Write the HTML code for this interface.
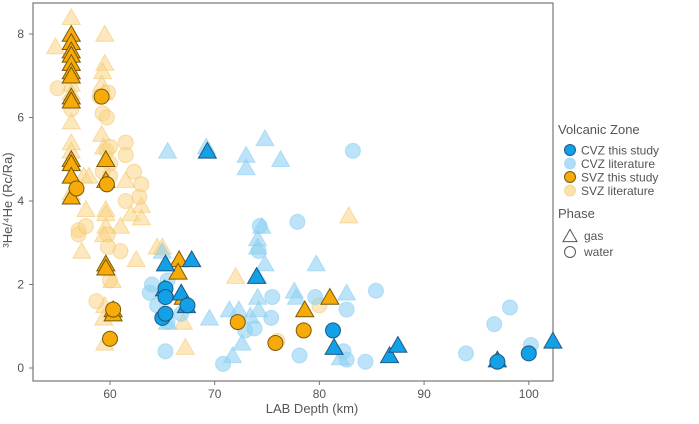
<!DOCTYPE html>
<html><head><meta charset="utf-8"><style>
body{margin:0;background:#fff;font-family:"Liberation Sans",sans-serif}
svg text{font-family:"Liberation Sans",sans-serif;fill:#555}
</style></head><body>
<svg id="c" width="699" height="419">
<rect x="33" y="3" width="520" height="378" fill="none" stroke="#777" stroke-width="1.2"/>
<g id="marks"></g>
<g id="axes"></g>
<text x="12" y="200" font-size="13" transform="rotate(-90 12 200)" text-anchor="middle">³He/⁴He (Rc/Ra)</text>
<text x="312" y="413" font-size="13" text-anchor="middle">LAB Depth (km)</text>
<g>
<text x="558" y="134" font-size="13">Volcanic Zone</text>
<g id="leg"></g>
<text x="558" y="218" font-size="13">Phase</text>
</g>
</svg>
<script>
const xTicks=[60,70,80,90,100];
const yTicks=[0,2,4,6,8];
const seriesNames=["CVZ this study","CVZ literature","SVZ this study","SVZ literature"];
const svzLitTriX=[56.3,54.8,56.3,56.3,56.3,56.3,56.3,56.3,56.3,56.3,56.3,56.3,56.3,56.3,59.5,59.5,59.3,59.2,59.4,59.2,59.4,59.6,59.6,59.6,59.4,59.5,59.4,59.5,57.5,57.7,57.3,58.0,61.5,61.0,62.0,63.0,63.0,62.5,64.5,67.0,67.2,72.0,82.8,60.2,65.0];
const svzLitTriY=[8.4,7.7,7.5,7.3,7.0,6.8,6.6,6.5,5.9,5.4,5.2,5.0,4.9,4.2,8.0,7.3,7.1,6.8,6.6,5.6,5.3,3.8,3.7,3.4,3.2,1.5,1.2,0.6,4.6,3.8,2.8,4.6,4.5,3.4,3.7,3.9,3.6,2.6,2.9,1.1,0.5,2.2,3.65,2.1,2.9];
const svzLitCirX=[55.0,56.3,57.0,57.0,57.7,59.0,59.3,59.8,59.7,59.7,60.0,60.0,60.0,59.3,59.7,61.5,61.5,62.3,63.0,62.8,61.5,59.8,59.8,61.0,60.0,58.7,76.0,80.0];
const svzLitCirY=[6.7,6.2,3.3,3.2,3.4,6.5,6.1,6.6,6.0,5.2,5.3,4.6,4.9,4.7,4.4,5.4,5.1,4.7,4.4,4.1,4.0,3.2,2.9,2.8,2.1,1.6,0.65,1.5];
const cvzLitTriX=[65.5,69.2,73.0,73.0,74.8,76.3,74.5,74.1,74.1,74.8,74.1,74.1,71.4,72.3,73.4,74.2,69.5,72.6,71.7,77.6,77.8,79.7,82.6,82.0,65.0,66.8,65.5];
const cvzLitTriY=[5.2,5.3,5.1,4.8,5.5,5.0,3.4,3.1,2.9,2.5,2.2,1.7,1.4,1.4,1.25,1.4,1.2,0.6,0.3,1.85,1.7,2.5,1.8,0.25,2.8,1.8,1.1];
const cvzLitCirX=[83.2,77.9,74.3,74.2,75.5,79.6,85.4,82.6,73.8,75.4,70.8,78.1,82.3,82.6,84.4,94.0,96.7,98.2,100.2,64.0,63.8,64.5,65.5,65.5,65.3,66.8,72.9];
const cvzLitCirY=[5.2,3.5,3.4,2.8,1.7,1.7,1.85,1.4,0.95,1.2,0.1,0.3,0.4,0.2,0.15,0.35,1.05,1.45,0.55,2.0,1.8,1.5,2.1,1.1,0.4,1.3,0.9];
const svzStTriX=[56.3,56.3,56.3,56.3,56.3,56.3,56.3,56.3,56.3,56.3,56.3,56.3,56.3,59.6,59.6,59.6,59.6,60.3,60.3,66.6,66.5,67.0,78.6,81.0];
const svzStTriY=[8.0,7.8,7.6,7.5,7.3,7.1,7.0,6.5,6.4,5.0,4.9,4.6,4.1,5.0,4.5,2.5,2.4,1.4,1.3,2.6,2.3,1.7,1.4,1.7];
const svzStCirX=[56.8,59.2,59.7,60.3,60.0,72.2,75.8,78.5];
const svzStCirY=[4.3,6.5,4.4,1.4,0.7,1.1,0.6,0.9];
const cvzStTriX=[65.3,67.8,66.8,67.3,69.3,74.0,81.4,86.7,87.5,97.0,102.3,65.2];
const cvzStTriY=[2.5,2.6,1.8,1.5,5.2,2.2,0.5,0.3,0.55,0.2,0.65,1.9];
const cvzStCirX=[65.3,65.3,65.0,65.3,81.3,97.0,100.0,67.4];
const cvzStCirY=[1.9,1.7,1.2,1.3,0.9,0.15,0.35,1.5];

const NS="http://www.w3.org/2000/svg";
const X=v=>110+(v-60)*10.47;
const Y=v=>368-v*41.75;
const marks=document.getElementById('marks'),axes=document.getElementById('axes'),leg=document.getElementById('leg');
function mk(t,a,p){const e=document.createElementNS(NS,t);for(const k in a)e.setAttribute(k,a[k]);p.appendChild(e);return e;}
function tri(cx,cy,s,st,p){return mk('polygon',{points:`${cx-s},${cy+s*0.8} ${cx+s},${cy+s*0.8} ${cx},${cy-s*0.95}`},p);}
const styles={
 cvzSt:{fill:'#12a0e6',stroke:'#1a4e78','fill-opacity':1,'stroke-opacity':0.9},
 cvzLit:{fill:'#8fd0f2',stroke:'#8fd0f2','fill-opacity':0.6,'stroke-opacity':0.6},
 svzSt:{fill:'#f7ab0a',stroke:'#6b4d00','fill-opacity':1,'stroke-opacity':0.9},
 svzLit:{fill:'#fad585',stroke:'#f3c56a','fill-opacity':0.55,'stroke-opacity':0.55}
};
function draw(xs,ys,shape,st,name){
 const g=mk('g',{},marks);
 
 
 xs.forEach((x,i)=>{
  let e;
  if(shape==='t') e=tri(X(x),Y(ys[i]),9,st,g);
  else e=mk('circle',{cx:X(x),cy:Y(ys[i]),r:7.5},g);
  for(const k in styles[st])e.setAttribute(k,styles[st][k]);
  e.setAttribute('stroke-width','1');
  
  
 });
}
draw(svzLitTriX,svzLitTriY,'t','svzLit','svz-literature-gas');
draw(svzLitCirX,svzLitCirY,'c','svzLit','svz-literature-water');
draw(cvzLitTriX,cvzLitTriY,'t','cvzLit','cvz-literature-gas');
draw(cvzLitCirX,cvzLitCirY,'c','cvzLit','cvz-literature-water');
draw(svzStTriX,svzStTriY,'t','svzSt','svz-study-gas');
draw(svzStCirX,svzStCirY,'c','svzSt','svz-study-water');
draw(cvzStTriX,cvzStTriY,'t','cvzSt','cvz-study-gas');
draw(cvzStCirX,cvzStCirY,'c','cvzSt','cvz-study-water');
xTicks.forEach(t=>{
 mk('line',{x1:X(t),x2:X(t),y1:381,y2:385,stroke:'#777'},axes);
 const e=mk('text',{x:X(t),y:398,'font-size':12,'text-anchor':'middle'},axes);e.textContent=t;
 
 
});
yTicks.forEach(t=>{
 mk('line',{x1:29,x2:33,y1:Y(t),y2:Y(t),stroke:'#777'},axes);
 const e=mk('text',{x:24,y:Y(t)+4,'font-size':12,'text-anchor':'end'},axes);e.textContent=t;
 
 
});
const legSt=['cvzSt','cvzLit','svzSt','svzLit'];
seriesNames.forEach((n,i)=>{
 const y=150+i*13.5;
 const c=mk('circle',{cx:570,cy:y,r:5.5},leg);
 for(const k in styles[legSt[i]])c.setAttribute(k,styles[legSt[i]][k]);
 c.setAttribute('fill-opacity',legSt[i].includes('Lit')?0.7:1);
 const t=mk('text',{x:581,y:y+4.5,'font-size':12},leg);t.textContent=n;
 
 
});
const lt=tri(570,236,7,null,leg);lt.setAttribute('fill','none');lt.setAttribute('stroke','#555');
const t1=mk('text',{x:584,y:240,'font-size':12},leg);t1.textContent='gas';


mk('circle',{cx:570,cy:252,r:5.5,fill:'none',stroke:'#555'},leg);
const t2=mk('text',{x:584,y:256,'font-size':12},leg);t2.textContent='water';


</script>
</body></html>
